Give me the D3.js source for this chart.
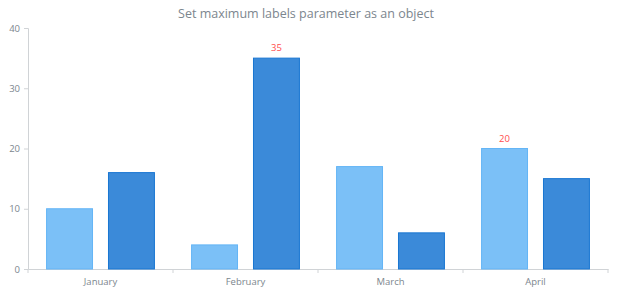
<!DOCTYPE html>
<html>
<head>
<meta charset="utf-8">
<script src="https://cdn.jsdelivr.net/npm/d3@7"></script>
<style>
  body { margin: 0; background: #fff; }
  text { font-family: "Open Sans", sans-serif; }
</style>
</head>
<body>
<svg id="chart"></svg>
<script>
// chart data
const months = ["January", "February", "March", "April"];
const series1 = [10, 4, 17, 20];
const series2 = [16, 35, 6, 15];
const yTicks = [0, 10, 20, 30, 40];
const titleText = "Set maximum labels parameter as an object";

const svg = d3.select("#chart")
    .attr("width", 620)
    .attr("height", 300);

const margin = { top: 28, right: 12, bottom: 31, left: 28 };
const width = 620 - margin.left - margin.right;
const height = 300 - margin.top - margin.bottom;

const g = svg.append("g")
    .attr("transform", `translate(${margin.left},${margin.top})`);

// title
svg.append("text")
    .attr("x", 306)
    .attr("y", 18)
    .attr("text-anchor", "middle")
    .style("font-size", "12.5px")
    .style("fill", "#7c868e")
    .text(titleText);

// scales
const x = d3.scaleBand()
    .domain(months)
    .range([0, width]);

const inner = d3.scaleBand()
    .domain([0, 1])
    .range([0, x.bandwidth()])
    .paddingInner(0.258)
    .paddingOuter(0.3);

const y = d3.scaleLinear()
    .domain([0, 40])
    .range([height, 0]);

// axes
const yAxis = g.append("g")
    .call(d3.axisLeft(y).tickValues(yTicks).tickSize(4).tickPadding(4));
const xAxis = g.append("g")
    .attr("transform", `translate(0,${height})`)
    .call(d3.axisBottom(x).tickSize(0).tickPadding(9));

[yAxis, xAxis].forEach(ax => {
    ax.select(".domain").attr("stroke", "#d0d3d6");
    ax.selectAll(".tick line").attr("stroke", "#d0d3d6");
    ax.selectAll("text").style("font-size", "9.5px").style("fill", "#7c868e")
        .style("font-family", "'Open Sans', sans-serif");
});

// category separators on x axis
g.append("g")
    .selectAll("line")
    .data(months.concat(["end"]))
    .enter().append("line")
    .attr("x1", (d, i) => i * x.step())
    .attr("x2", (d, i) => i * x.step())
    .attr("y1", height)
    .attr("y2", height + 4)
    .attr("stroke", "#d0d3d6");

// bars
const allSeries = [
    { values: series1, fill: "#64b5f6" },
    { values: series2, fill: "#1976d2" }
];

allSeries.forEach((s, si) => {
    const maxVal = d3.max(s.values);
    g.selectAll(".bar" + si)
        .data(s.values)
        .enter().append("rect")
        .attr("class", "bar" + si)
        .attr("x", (d, i) => x(months[i]) + inner(si))
        .attr("y", d => y(d))
        .attr("width", inner.bandwidth())
        .attr("height", d => height - y(d))
        .attr("fill", s.fill)
        .attr("fill-opacity", 0.85)
        .attr("stroke", s.fill);

    // label only the max value
    g.selectAll(".label" + si)
        .data(s.values.filter(d => d === maxVal))
        .enter().append("text")
        .attr("x", d => x(months[s.values.indexOf(d)]) + inner(si) + inner.bandwidth() / 2)
        .attr("y", d => y(d) - 7)
        .attr("text-anchor", "middle")
        .style("font-size", "9.5px")
        .style("fill", "#ff4d4d")
        .text(d => d);
});
</script>
</body>
</html>
